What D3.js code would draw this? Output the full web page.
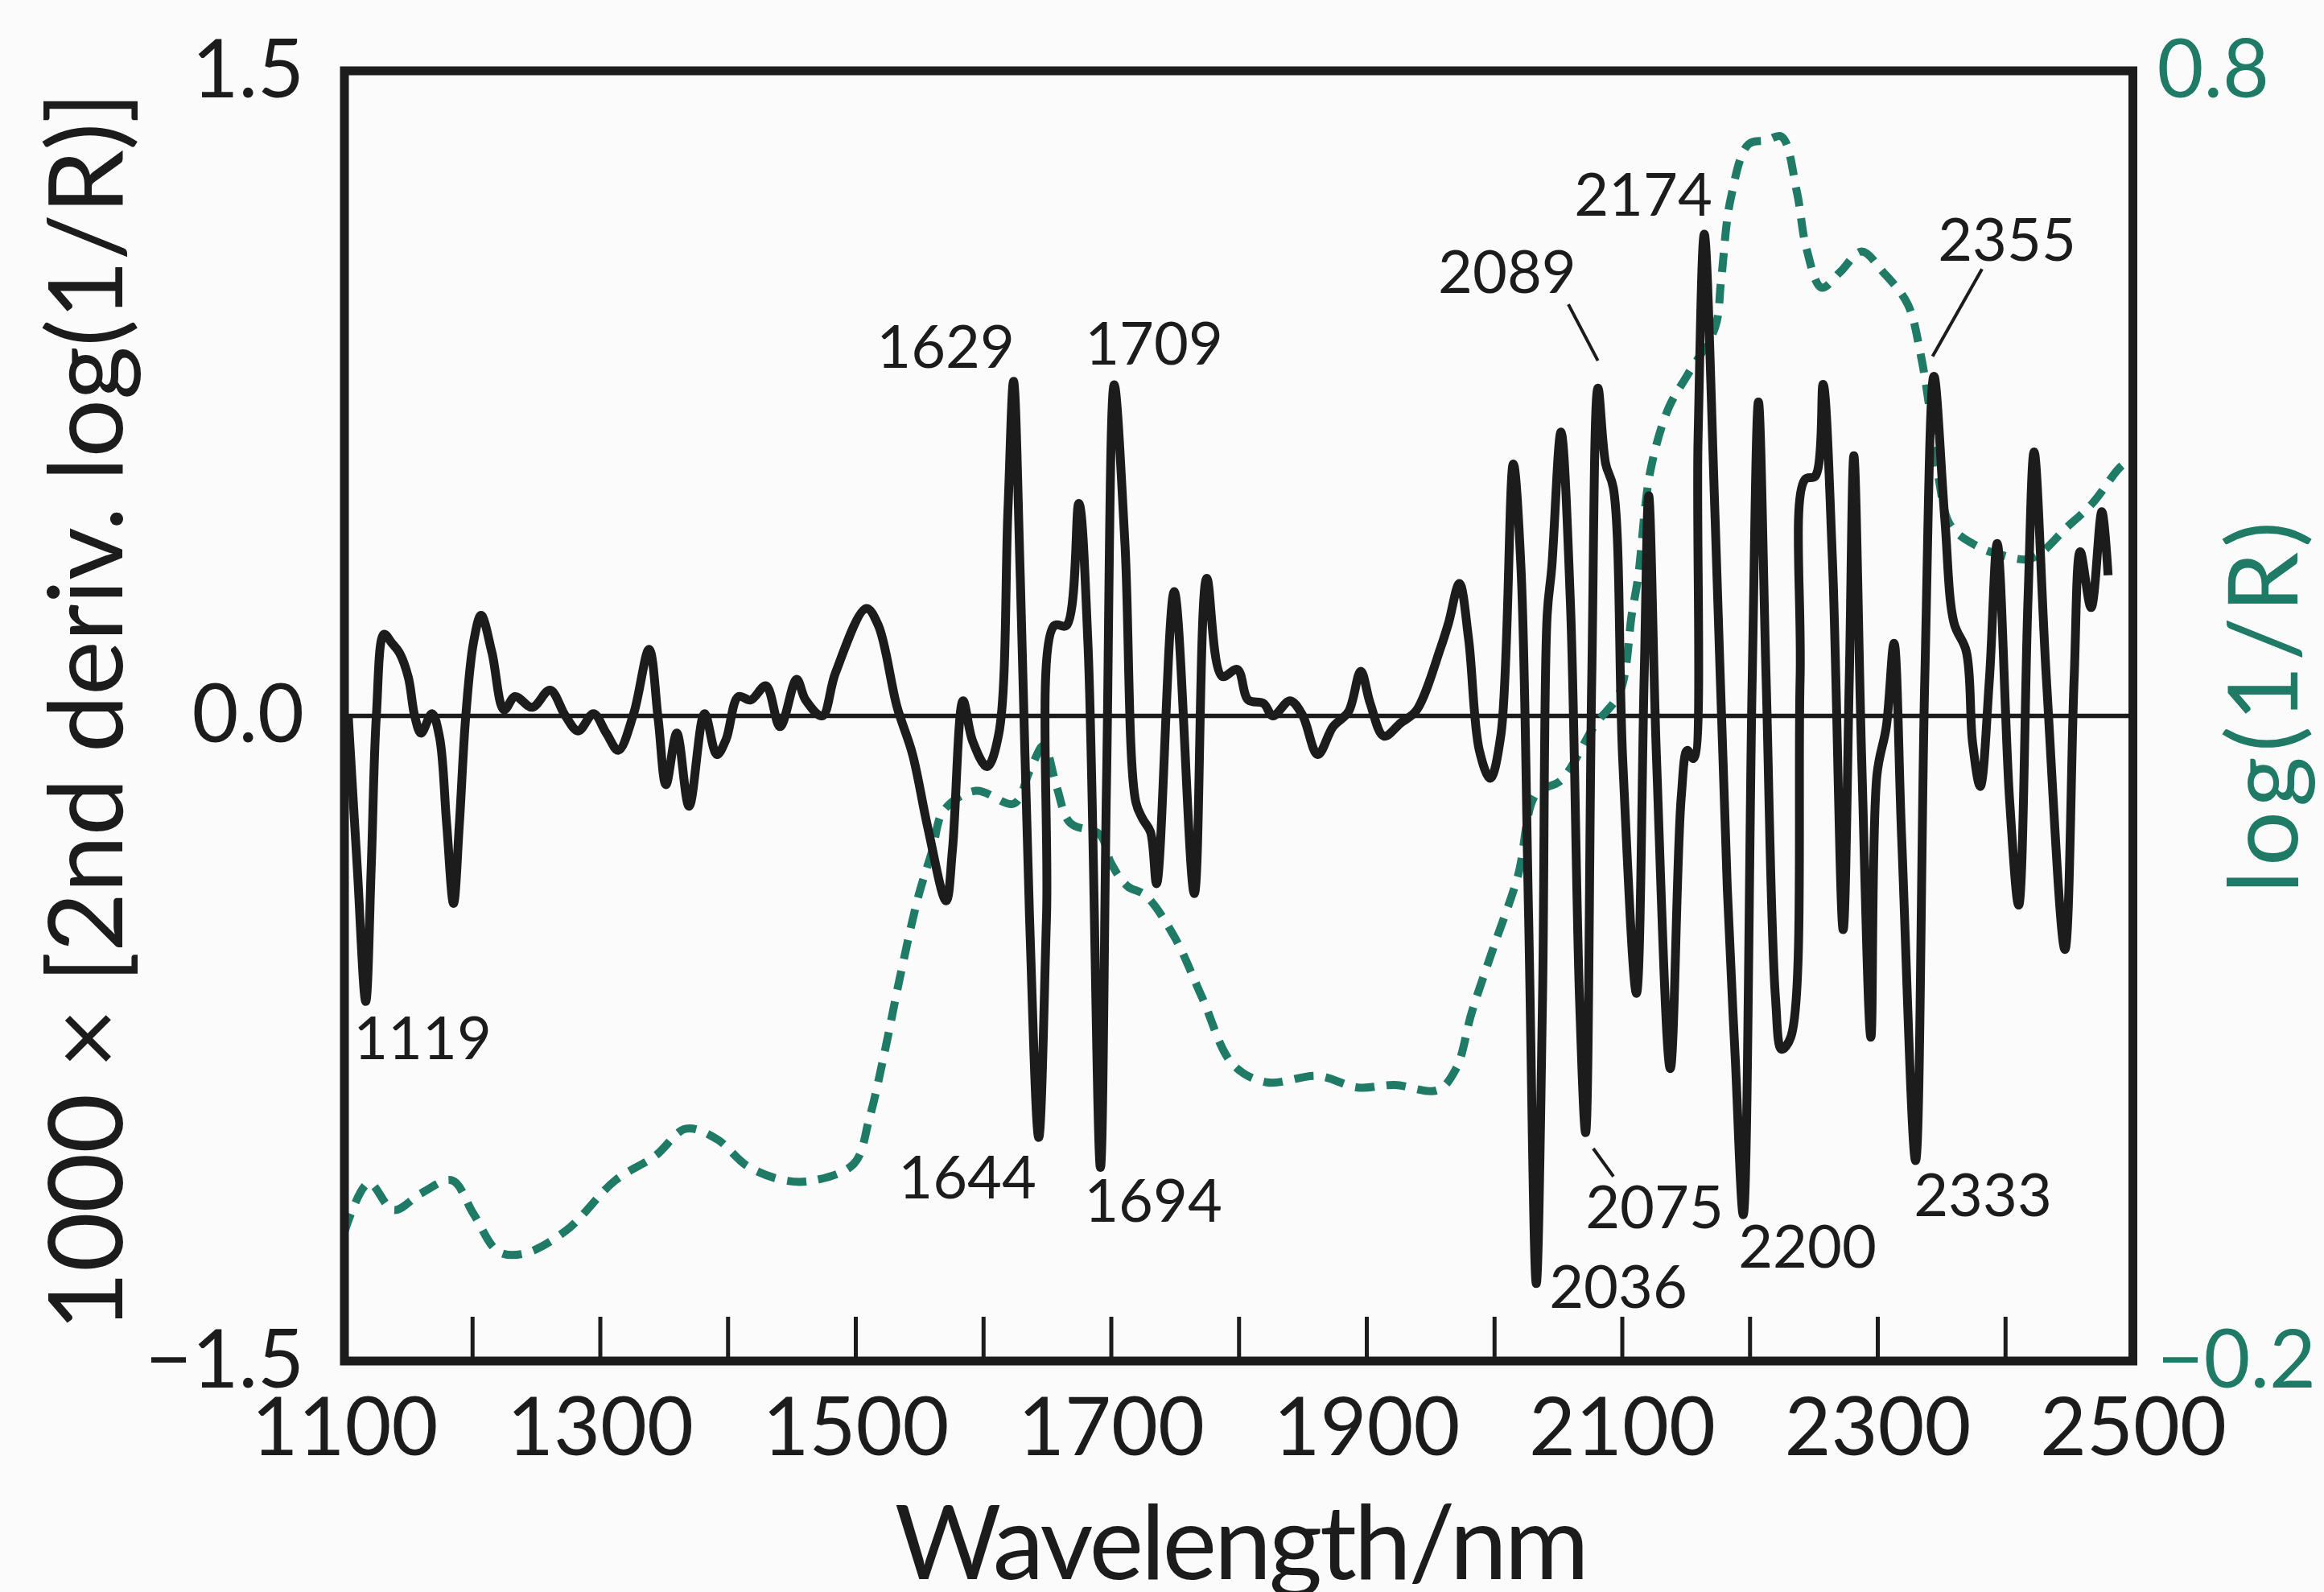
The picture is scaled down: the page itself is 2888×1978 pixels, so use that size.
<!DOCTYPE html>
<html>
<head>
<meta charset="utf-8">
<script src="https://cdn.jsdelivr.net/npm/d3@7"></script>
<style>
  body { margin: 0; background: #fbfbfb; }
  text { font-family: Lato, "Open Sans", sans-serif; }
</style>
</head>
<body>
<script>
// 2nd derivative spectrum, [wavelength nm, 1000 x d2 log(1/R)]
var deriv = [
  [1103, 0.00], [1110, -0.35], [1116.7, -0.664], [1121, -0.35], [1125, 0.00], [1131, 0.19],
  [1137, 0.17], [1143, 0.147], [1150, 0.09], [1155, 0.0], [1160, -0.04], [1168.5, 0.005],
  [1174.5, -0.05], [1180, -0.25], [1185.4, -0.436], [1190, -0.25], [1195, 0.0], [1201, 0.17],
  [1207, 0.234], [1215.5, 0.147], [1225, 0.014], [1233.6, 0.045], [1247, 0.02], [1261, 0.06],
  [1273, 0.0], [1283, -0.035], [1295, 0.005], [1305, -0.04], [1314.4, -0.08], [1326.4, 0.005],
  [1338.5, 0.155], [1345.7, -0.01], [1351.7, -0.16], [1360.2, -0.04], [1369.8, -0.21], [1381.9, 0.005],
  [1391.5, -0.09], [1398.7, -0.055], [1408.4, 0.045], [1418, 0.037], [1430, 0.07], [1441, -0.025],
  [1454, 0.085], [1461, 0.037], [1474, 0.0], [1484.4, 0.10], [1508.5, 0.25], [1518, 0.21],
  [1532.6, 0.021], [1544.7, -0.089], [1556.7, -0.26], [1571, -0.43], [1576, -0.31], [1584.3, 0.035],
  [1591.7, -0.058], [1603, -0.118], [1612.2, -0.042], [1619.4, 0.478], [1623.8, 0.778], [1629.1, 0.32],
  [1636.3, -0.467], [1643.5, -0.98], [1649.6, -0.467], [1655.6, 0.21], [1665.2, 0.21], [1674.9, 0.494],
  [1682.1, 0.163], [1691.8, -1.05], [1696.6, -0.15], [1702.6, 0.77], [1711, 0.40], [1719.5, -0.20],
  [1725, -0.24], [1731, -0.27], [1735.8, -0.39], [1749.6, 0.289], [1765.3, -0.413], [1775, 0.32], [1787, 0.092],
  [1799, 0.108], [1807.5, 0.037], [1819.5, 0.029], [1826.8, 0.0], [1840.2, 0.035], [1849.8, 0.003],
  [1861.9, -0.09], [1873.9, -0.025], [1886, 0.01], [1895.6, 0.104], [1902.9, 0.03], [1913.7, -0.047],
  [1927, -0.016], [1939, 0.012], [1958.3, 0.16], [1964.3, 0.216], [1972.8, 0.308], [1980, 0.179],
  [1988.4, -0.08], [1996.9, -0.145], [2005.3, -0.044], [2015, 0.586], [2021, 0.345], [2027, -0.47],
  [2033, -1.32], [2037.9, -0.65], [2041.5, 0.234], [2045.1, 0.345], [2052.3, 0.66], [2059.6, 0.271],
  [2066.8, -0.654], [2071.6, -0.969], [2076.4, 0.086], [2081.3, 0.762], [2087.3, 0.586], [2093.3, 0.53],
  [2100.6, -0.099], [2111.4, -0.645], [2117.4, 0.086], [2121, 0.512], [2127.1, -0.099], [2137.9, -0.82],
  [2146.4, -0.191], [2151.2, -0.08], [2156, -0.099], [2159.6, 0.64], [2164.5, 1.12], [2173, 0.457],
  [2182.5, -0.40], [2188.8, -0.80], [2195, -1.16], [2202, 0.086], [2206.9, 0.73], [2212.9, 0.086],
  [2220.2, -0.654], [2225, -0.775], [2232.2, -0.747], [2239.5, 0.086], [2243.1, 0.549], [2251.5, 0.558],
  [2257.5, 0.771], [2264.8, 0.364], [2273.2, -0.497], [2278, 0.086], [2281.6, 0.605], [2287.7, -0.099],
  [2294.9, -0.747], [2299.7, -0.136], [2307, -0.025], [2313, 0.169], [2319, -0.284], [2329.9, -1.034],
  [2337.1, 0.086], [2344.3, 0.79], [2352.8, 0.457], [2360, 0.216], [2369.6, 0.15], [2374.5, -0.062],
  [2380.5, -0.164], [2387.7, 0.086], [2393.8, 0.401], [2403.4, -0.191], [2410.6, -0.44], [2417.9, 0.271],
  [2422.7, 0.614], [2432.3, 0.086], [2446.8, -0.543], [2454, 0.086], [2458.8, 0.382], [2467.3, 0.252],
  [2475.7, 0.475], [2480.6, 0.327]
];

// log(1/R) spectrum, right axis
var logR = [
  [1100, -0.10], [1119.1, -0.062], [1138.4, -0.083], [1160.1, -0.070], [1184.2, -0.060], [1201.1, -0.086],
  [1220.3, -0.115], [1239.6, -0.117], [1273.4, -0.099], [1312, -0.060], [1343.3, -0.041], [1367.4, -0.020],
  [1391.5, -0.028], [1415.6, -0.049], [1444.6, -0.060], [1467.5, -0.060], [1498.9, -0.047], [1510.9, -0.012],
  [1523, 0.040], [1535, 0.098], [1549.5, 0.161], [1560, 0.195], [1569.3, 0.227], [1594.5, 0.242],
  [1624, 0.232], [1636.7, 0.258], [1647.4, 0.277], [1657.5, 0.245], [1668.2, 0.217], [1691.5, 0.208],
  [1700, 0.186], [1713, 0.168], [1727, 0.161], [1749.6, 0.129], [1771.3, 0.082], [1795.4, 0.030], [1822, 0.016],
  [1861.9, 0.021], [1893.2, 0.012], [1922.1, 0.014], [1955.9, 0.010], [1970.4, 0.027], [1982.4, 0.070],
  [1999.3, 0.120], [2018.6, 0.176], [2033, 0.240], [2052.3, 0.250], [2078.9, 0.293], [2098.2, 0.318],
  [2107.8, 0.379], [2112.6, 0.407], [2122.3, 0.490], [2136.7, 0.539], [2151.2, 0.564], [2172.9, 0.601],
  [2177.7, 0.638], [2185, 0.700], [2199, 0.743], [2212.9, 0.746], [2225, 0.749], [2237, 0.706],
  [2244.3, 0.663], [2256.3, 0.632], [2270.8, 0.644], [2287.7, 0.660], [2304.5, 0.644], [2323.8, 0.619],
  [2333.5, 0.582], [2340.7, 0.539], [2348, 0.484], [2357.6, 0.447], [2379.3, 0.431], [2396.2, 0.425],
  [2420.3, 0.422], [2449.2, 0.447], [2468.5, 0.465], [2490.2, 0.493], [2500, 0.50]
];

var xLabelTicks = [1100, 1300, 1500, 1700, 1900, 2100, 2300, 2500];
var xMinorTicks = [1200, 1300, 1400, 1500, 1600, 1700, 1800, 1900, 2000, 2100, 2200, 2300, 2400];
var yLeftTicks = [-1.5, 0, 1.5];
var yRightTicks = [-0.2, 0.8];

// peak labels: text, [wavelength, value] of text centre baseline
var peakLabels = [
  ["1119", 1161.1, -0.798], ["1629", 1570.6, 0.809], ["1709", 1733.7, 0.816],
  ["1644", 1587.6, -1.122], ["1694", 1733.1, -1.176], ["2089", 2010.2, 0.984],
  ["2174", 2116.7, 1.164], ["2075", 2125.5, -1.191], ["2036", 2097.2, -1.376],
  ["2200", 2245.2, -1.283], ["2333", 2382.5, -1.163], ["2355", 2401.4, 1.058]
];
// leader lines [nm1, v1, nm2, v2]
var leaders = [
  [2058.1, 0.957, 2081.2, 0.826],
  [2077.6, -1.006, 2093.4, -1.071],
  [2381.9, 1.039, 2343.2, 0.836]
];

var W = 2888, H = 1978;
var mLeft = 428, mRight = 2650.5, mTop = 88, mBottom = 1691;
var ink = "#1c1c1c", green = "#1f7a66";

var svg = d3.select("body").append("svg")
  .attr("width", W).attr("height", H);

svg.append("rect").attr("width", W).attr("height", H).attr("fill", "#fbfbfb");

var x = d3.scaleLinear().domain([1100, 2500]).range([mLeft, mRight]);
var yL = d3.scaleLinear().domain([-1.5, 1.5]).range([mBottom, mTop]);
var yR = d3.scaleLinear().domain([-0.2, 0.8]).range([mBottom, mTop]);

// inward ticks along the bottom
var tickAxis = svg.append("g")
  .attr("transform", "translate(0," + mBottom + ")")
  .call(d3.axisBottom(x).tickValues(xMinorTicks).tickSizeInner(-55).tickSizeOuter(0).tickFormat(""));
tickAxis.select(".domain").remove();
tickAxis.selectAll("line").attr("stroke", ink).attr("stroke-width", 5);

// x labels
var labelAxis = svg.append("g")
  .attr("transform", "translate(0," + mBottom + ")")
  .call(d3.axisBottom(x).tickValues(xLabelTicks).tickSize(0).tickPadding(46).tickFormat(d3.format("d")));
labelAxis.select(".domain").remove();
labelAxis.selectAll("text").attr("font-size", 100).attr("fill", ink)
  .style("font-family", "Lato, sans-serif");

// left labels
var leftAxis = svg.append("g")
  .attr("transform", "translate(" + mLeft + ",0)")
  .call(d3.axisLeft(yL).tickValues(yLeftTicks).tickSize(0).tickPadding(50).tickFormat(d3.format(".1f")));
leftAxis.select(".domain").remove();
leftAxis.selectAll("text").attr("font-size", 100).attr("fill", ink)
  .style("font-family", "Lato, sans-serif");

// right labels
var rightAxis = svg.append("g")
  .attr("transform", "translate(" + mRight + ",0)")
  .call(d3.axisRight(yR).tickValues(yRightTicks).tickSize(0).tickPadding(30).tickFormat(d3.format(".1f")));
rightAxis.select(".domain").remove();
rightAxis.selectAll("text").attr("font-size", 100).attr("fill", green)
  .style("font-family", "Lato, sans-serif");

// zero line
svg.append("line")
  .attr("x1", mLeft).attr("x2", mRight)
  .attr("y1", yL(0)).attr("y2", yL(0))
  .attr("stroke", ink).attr("stroke-width", 5.5);

// log(1/R) dashed
svg.append("path")
  .datum(logR)
  .attr("fill", "none")
  .attr("stroke", green)
  .attr("stroke-width", 10)
  .attr("stroke-dasharray", "24,15")
  .attr("d", d3.line().x(function(d){ return x(d[0]); }).y(function(d){ return yR(d[1]); })
    .curve(d3.curveCatmullRom.alpha(0.5)));

// 2nd derivative
svg.append("path")
  .datum(deriv)
  .attr("fill", "none")
  .attr("stroke", ink)
  .attr("stroke-width", 11)
  .attr("stroke-linejoin", "round")
  .attr("d", d3.line().x(function(d){ return x(d[0]); }).y(function(d){ return yL(d[1]); })
    .curve(d3.curveCatmullRom.alpha(0.5)));

// frame
svg.append("rect")
  .attr("x", mLeft).attr("y", mTop)
  .attr("width", mRight - mLeft).attr("height", mBottom - mTop)
  .attr("fill", "none").attr("stroke", ink).attr("stroke-width", 11);

// peak labels
svg.selectAll(".peak").data(peakLabels).enter().append("text")
  .attr("class", "peak")
  .attr("x", function(d){ return x(d[1]); })
  .attr("y", function(d){ return yL(d[2]); })
  .attr("text-anchor", "middle")
  .attr("font-size", 74)
  .attr("fill", ink)
  .text(function(d){ return d[0]; });

svg.selectAll(".leader").data(leaders).enter().append("line")
  .attr("x1", function(d){ return x(d[0]); }).attr("y1", function(d){ return yL(d[1]); })
  .attr("x2", function(d){ return x(d[2]); }).attr("y2", function(d){ return yL(d[3]); })
  .attr("stroke", ink).attr("stroke-width", 4);

// axis titles
svg.append("text")
  .attr("x", (mLeft + mRight) / 2 + 4).attr("y", 1962)
  .attr("text-anchor", "middle")
  .attr("font-size", 128)
  .attr("fill", ink)
  .attr("textLength", 863)
  .text("Wavelength/nm");

svg.append("text")
  .attr("transform", "translate(152,884) rotate(-90)")
  .attr("text-anchor", "middle")
  .attr("font-size", 128)
  .attr("fill", ink)
  .attr("textLength", 1540)
  .text("1000 × [2nd deriv. log(1/R)]");

svg.append("text")
  .attr("transform", "translate(2855,879) rotate(-90)")
  .attr("text-anchor", "middle")
  .attr("font-size", 120)
  .attr("fill", green)
  .attr("textLength", 462)
  .text("log(1/R)");
</script>
</body>
</html>
